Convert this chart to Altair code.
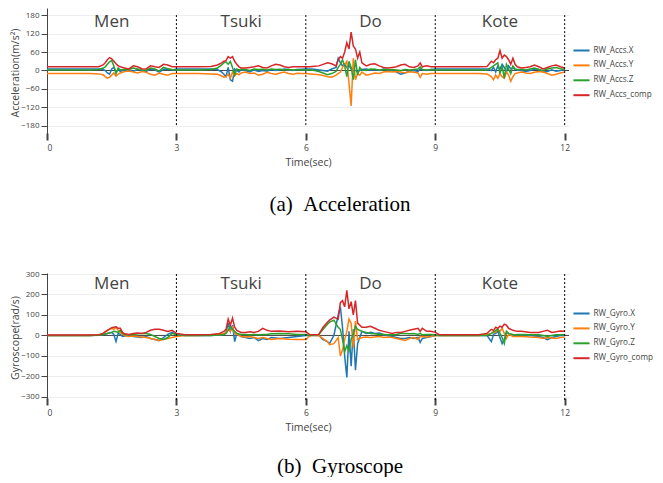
import altair as alt
import pandas as pd

# ---------------- data ----------------
ACC_NAMES = ["RW_Accs.X", "RW_Accs.Y", "RW_Accs.Z", "RW_Accs_comp"]
GYR_NAMES = ["RW_Gyro.X", "RW_Gyro.Y", "RW_Gyro.Z", "RW_Gyro_comp"]
COLORS = ["#1f77b4", "#ff7f0e", "#2ca02c", "#d62728"]

SECTION_NAMES = ["Men", "Tsuki", "Do", "Kote"]
SECTION_CENTERS = [1.5, 4.5, 7.5, 10.5]
DIVIDERS = [3, 6, 9, 12]
X_TICKS = [0, 3, 6, 9, 12]
ACC_TICKS = [-180, -120, -60, 0, 60, 120, 180]
GYR_TICKS = [-300, -200, -100, 0, 100, 200, 300]

T_ACC = [0, 0.5, 1.0, 1.2, 1.3, 1.35, 1.4, 1.45, 1.5, 1.55, 1.6, 1.65, 1.7, 1.8, 1.9, 2.0, 2.1, 2.2, 2.3, 2.4, 2.5, 2.6, 2.7, 2.8, 2.9, 3.0,
         3.2, 3.5, 3.8, 3.95, 4.05, 4.1, 4.15, 4.2, 4.25, 4.3, 4.35, 4.4, 4.45, 4.5, 4.6, 4.7, 4.8, 4.9, 5.0, 5.1, 5.2, 5.3, 5.4, 5.5, 5.6, 5.7, 5.8, 5.9, 6.0,
         6.1, 6.2, 6.3, 6.4, 6.5, 6.6, 6.7, 6.75, 6.8, 6.85, 6.9, 6.95, 7.0, 7.05, 7.1, 7.15, 7.2, 7.25, 7.3, 7.4, 7.5, 7.6, 7.7, 7.8, 7.9, 8.0, 8.1, 8.2, 8.3, 8.4, 8.5, 8.6, 8.65, 8.7, 8.8, 8.9, 9.0,
         9.5, 10.0, 10.2, 10.3, 10.35, 10.4, 10.45, 10.5, 10.55, 10.6, 10.65, 10.7, 10.75, 10.8, 10.85, 10.9, 11.0, 11.1, 11.2, 11.3, 11.4, 11.5, 11.6, 11.7, 11.8, 11.9, 12.0]
ACC_X = [5, 5, 5, 5, 4, 0, -8, -12, 5, 10, -5, 3, -3, 2, 0, -2, 3, 0, -3, 5, 2, -5, 3, 5, 2, 5,
         5, 5, 5, 3, -5, -12, -20, 10, -30, -35, 5, 0, -5, 3, 0, -5, 2, -3, 0, -2, 3, 0, 2, 5, 3, 0, 3, 4, 5,
         5, 4, 2, 0, -2, 5, 10, 40, 25, 15, 20, 10, 15, 5, 0, 0, -5, 0, 3, 5, 2, 3, 0, 5, 3, 0, -5, -12, -8, -2, 0, -3, 5, 3, 0, 3, 5,
         5, 5, 5, 0, 10, -5, 15, 5, 20, 10, -5, 15, 5, 10, 3, 2, 0, -3, 0, 5, 3, -5, -3, 2, -2, 0, 3]
ACC_Y = [-10, -10, -10, -11, -14, -20, -25, -22, -15, -8, -18, -12, -8, -3, -2, -5, -8, -3, -6, -12, -15, -8, -12, -15, -10, -10,
         -10, -10, -11, -12, -18, -22, -20, -12, -25, -5, -18, -10, -14, -8, -5, -10, -8, -15, -12, -6, -10, -12, -8, -5, -10, -12, -9, -10, -10,
         -11, -12, -14, -16, -20, -22, -15, -10, -5, 10, 20, 30, -40, -115, 40, -30, -10, -15, -5, -15, -12, -8, -10, -5, -3, -5, -3, -5, -8, -4, -6, -8, -22, -10, -12, -10, -10,
         -10, -10, -11, -20, -30, -15, -25, -10, -20, -25, -5, -15, -35, -20, -10, -8, -5, -8, -10, -6, -3, -5, -10, -15, -12, -8, -5]
ACC_Z = [2, 2, 2, 3, 8, 12, 20, 28, 32, 15, -10, 8, 2, 4, 3, 8, 5, 2, 0, 8, 5, -2, 10, 6, 3, 2,
         2, 2, 3, 8, 18, 25, 28, 20, 30, 10, -15, 5, 2, 4, 3, 0, 5, 3, 4, 2, 5, 3, 4, 2, 3, 2, 3, 2, 2,
         2, 0, -3, -8, -14, -10, -3, 10, 20, 35, 15, -20, 30, 10, -30, 35, -15, 10, 2, 0, 5, 4, 2, 3, 2, 3, 2, 0, 3, 2, 3, 5, 12, 3, 2, 3, 2,
         2, 2, 2, 10, 15, 20, 25, -10, 15, -25, 20, 5, -10, 15, 5, 3, 4, 2, 5, 8, 3, 0, 5, 8, 10, 6, 4]
ACC_C = [12, 12, 12, 12, 18, 25, 35, 42, 38, 30, 22, 15, 12, 8, 5, 15, 12, 6, 5, 15, 12, 10, 20, 18, 12, 12,
         12, 12, 13, 18, 25, 30, 32, 45, 40, 45, 30, 20, 12, 8, 8, 10, 12, 15, 10, 8, 15, 20, 18, 12, 10, 12, 12, 12, 12,
         12, 14, 15, 20, 25, 22, 15, 35, 45, 40, 60, 90, 70, 125, 80, 70, 40, 60, 25, 15, 20, 22, 15, 10, 8, 10, 12, 18, 20, 12, 10, 15, 25, 12, 15, 12, 12,
         12, 12, 13, 30, 25, 35, 40, 65, 40, 50, 45, 35, 20, 40, 20, 12, 8, 10, 12, 18, 12, 5, 10, 15, 18, 12, 8]

T_GYR = [0, 0.5, 1.0, 1.2, 1.3, 1.4, 1.5, 1.55, 1.6, 1.65, 1.7, 1.75, 1.8, 1.9, 2.0, 2.1, 2.2, 2.3, 2.4, 2.5, 2.6, 2.7, 2.8, 2.9, 3.0,
         3.2, 3.5, 3.8, 4.0, 4.1, 4.15, 4.2, 4.25, 4.3, 4.35, 4.4, 4.5, 4.6, 4.7, 4.8, 4.9, 5.0, 5.1, 5.2, 5.4, 5.6, 5.8, 6.0,
         6.1, 6.3, 6.4, 6.5, 6.55, 6.65, 6.75, 6.8, 6.85, 6.9, 6.95, 7.0, 7.05, 7.1, 7.15, 7.2, 7.3, 7.4, 7.5, 7.6, 7.7, 7.8, 7.9, 8.0, 8.1, 8.2, 8.3, 8.4, 8.5, 8.6, 8.65, 8.7, 8.8, 8.9, 9.0,
         9.1, 9.5, 10.0, 10.2, 10.3, 10.35, 10.4, 10.45, 10.5, 10.55, 10.6, 10.65, 10.7, 10.8, 10.9, 11.0, 11.2, 11.4, 11.5, 11.6, 11.7, 11.8, 11.9, 12.0]
GYR_X = [0, 0, 0, 2, 5, 10, 15, 5, -30, 10, 5, -5, -3, 0, -5, -8, -10, -5, -15, -20, -25, -10, 5, 15, 5,
         0, 0, 0, 3, 5, 15, 60, 20, 50, -30, 10, -5, -10, -15, -10, -25, -15, -20, -10, -15, -10, -5, 0,
         0, 0, -20, -30, -40, 0, 100, 140, 40, -100, -205, 20, -150, 30, -170, -40, 20, 10, 15, 10, 12, 5, 0, -5, -10, -15, -15, -10, -15, -10, -35, -15, -10, -5, 0,
         0, 0, 0, 0, -30, 5, 10, 20, -10, -40, -20, 15, 10, 0, 5, 3, 0, -5, -10, -20, -10, -5, 0, 0]
GYR_Y = [0, 0, 0, 3, 10, 25, 35, 30, 38, 25, 15, 5, 0, -5, -3, -5, -8, -10, -15, -20, -25, -20, -15, -10, -5,
         0, 0, 2, 5, 10, 15, 30, 20, 40, 10, 5, -5, -8, -5, -10, -15, -10, -15, -20, -15, -18, -20, -20,
         0, 0, -15, -30, -45, -40, -10, -100, -70, -20, 20, 80, 60, -60, 70, -20, -10, -8, -10, -8, -5, -10, -8, -10, -15, -20, -25, -15, -10, -20, -5, -5, -8, -5, 0,
         0, 0, 0, 5, 10, 20, 15, 30, 20, 35, 10, -15, 5, -5, -5, -5, -8, -10, -15, -10, -12, -15, -10, -8]
GYR_Z = [0, 0, 0, 1, 5, 10, 15, 20, 18, 15, 25, 10, 5, 3, 5, 8, 10, 10, 5, -5, -15, -20, -10, 10, 3,
         0, 0, 0, 2, 5, 10, 25, 45, 30, 20, 10, 5, 5, 3, 5, 3, 5, 5, 8, 10, 8, 5, 5,
         0, 5, 30, 55, 65, 75, 40, 30, -20, -80, -50, -75, -20, 10, 45, 30, 20, 15, 10, 8, 5, 5, 3, 3, 5, 10, 10, 8, 10, 5, 10, 3, 5, 5, 3,
         0, 0, 0, 0, 10, 15, 25, 30, 10, -10, -40, 20, 10, 5, 3, 5, 3, 3, 0, -5, 0, 3, 3, 3]
GYR_C = [2, 2, 2, 4, 10, 25, 38, 40, 42, 35, 35, 15, 8, 5, 10, 12, 10, 15, 25, 30, 30, 25, 20, 25, 10,
         3, 3, 5, 10, 20, 30, 80, 50, 85, 40, 25, 15, 15, 18, 15, 20, 35, 25, 20, 22, 18, 20, 18,
         3, 5, 40, 65, 75, 90, 80, 160, 170, 140, 220, 130, 165, 100, 170, 60, 40, 40, 45, 35, 25, 20, 15, 10, 15, 15, 20, 25, 30, 35, 20, 35, 20, 20, 15,
         3, 3, 3, 10, 30, 25, 40, 35, 45, 40, 55, 50, 35, 25, 20, 20, 15, 15, 20, 25, 15, 18, 22, 20]


def long_df(times, series, names):
    rows = []
    for k, (name, vals) in enumerate(zip(names, series)):
        for t, v in zip(times, vals):
            rows.append({"t": t, "v": v, "s": name, "k": k})
    return pd.DataFrame(rows)


acc_df = long_df(T_ACC, [ACC_X, ACC_Y, ACC_Z, ACC_C], ACC_NAMES)
gyr_df = long_df(T_GYR, [GYR_X, GYR_Y, GYR_Z, GYR_C], GYR_NAMES)

FONT = "Open Sans"
GREY = "#444"


def panel(df, names, ydom, yticks, ytitle, caption, cap_offset, txt_y, dot_y, dot_y2, height, legend_y):
    xscale = alt.Scale(domain=[0, 12.1], nice=False, zero=False)
    yscale = alt.Scale(domain=ydom, nice=False, zero=False)
    xaxis = alt.Axis(values=X_TICKS, tickCount=20, format="d", domain=False, grid=False,
                     tickWidth=2, tickSize=7, tickColor=GREY, offset=-4,
                     labelFont=FONT, labelFontSize=8.5, labelColor=GREY, labelPadding=3,
                     title="Time(sec)", titleFont=FONT, titleFontSize=10.5,
                     titleFontWeight="normal", titleColor=GREY, titlePadding=6)
    yaxis = alt.Axis(values=yticks, tickCount=20, domainColor=GREY, tickColor=GREY, tickSize=6,
                     grid=True, gridColor="#eeeeee", labelOverlap=False,
                     labelFont=FONT, labelFontSize=8, labelColor=GREY, labelPadding=2,
                     title=ytitle, titleFont=FONT, titleFontSize=10.5,
                     titleFontWeight="normal", titleColor=GREY, titlePadding=0)
    zero = alt.Chart(pd.DataFrame({"v": [0]})).mark_rule(color=GREY, strokeWidth=1).encode(
        y=alt.Y("v:Q", scale=yscale, axis=yaxis))
    lines = alt.Chart(df).mark_line(strokeWidth=1.5).encode(
        x=alt.X("t:Q", scale=xscale, axis=xaxis),
        y=alt.Y("v:Q", scale=yscale, axis=yaxis),
        color=alt.Color("s:N", scale=alt.Scale(domain=names, range=COLORS),
                        legend=alt.Legend(title=None, orient="none", legendX=525, legendY=legend_y,
                                          symbolType="stroke", symbolStrokeWidth=2, symbolSize=260,
                                          labelFont=FONT, labelFontSize=8.2, labelColor=GREY,
                                          rowPadding=0.9, labelOffset=2.5)),
        detail="k:N",
        order="t:Q")
    dots = alt.Chart(pd.DataFrame({"t": DIVIDERS})).mark_rule(
        color="black", strokeDash=[2, 2], strokeWidth=1).encode(
        x="t:Q", y=alt.datum(dot_y), y2=alt.datum(dot_y2))
    texts = alt.Chart(pd.DataFrame({"c": SECTION_CENTERS, "n": SECTION_NAMES})).mark_text(
        font=FONT, fontSize=17, color=GREY).encode(
        x="c:Q", y=alt.datum(txt_y), text="n:N")
    return alt.layer(zero, lines, dots, texts).properties(
        width=522, height=height,
        title=alt.TitleParams(caption, orient="bottom", anchor="middle", frame="group", dx=32,
                              font="Liberation Serif", fontSize=21, fontWeight="normal",
                              color="black", offset=cap_offset))


top = panel(acc_df, ACC_NAMES, [-216, 203], ACC_TICKS, "Acceleration(m/s²)",
            "(a)\u00a0\u00a0Acceleration", 26, 158, 180, -180, 129, 33)
bottom = panel(gyr_df, GYR_NAMES, [-325, 305], GYR_TICKS, "Gyroscope(rad/s)",
               "(b)\u00a0\u00a0Gyroscope", 23, 252, 300, -325, 129, 31)

chart = alt.vconcat(top, bottom, spacing=55).resolve_scale(
    color="independent", x="independent", y="independent"
).properties(
    padding={"left": 2, "top": 0, "right": 0, "bottom": 0}, background="white"
).configure_view(stroke=None).configure_axisY(labelOverlap=False)

chart.save("out.html", embed_options={"renderer": "svg", "actions": False})
